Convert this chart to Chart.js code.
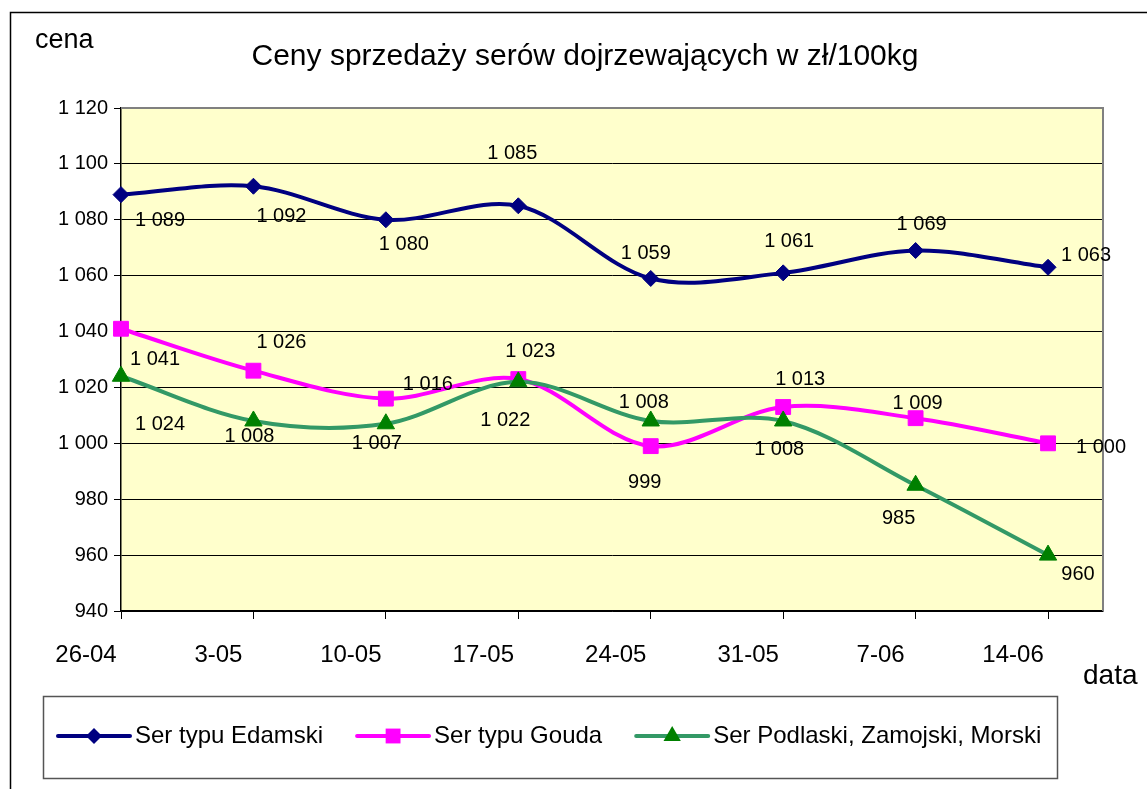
<!DOCTYPE html>
<html>
<head>
<meta charset="utf-8">
<script src="https://cdn.jsdelivr.net/npm/chart.js@4/dist/chart.umd.min.js"></script>
<style>
  html, body { margin: 0; padding: 0; background: #fff; }
  #wrap { width: 1147px; height: 789px; }
</style>
</head>
<body>
<div id="wrap"><canvas id="chart"></canvas></div>
<script>
// Ceny sprzedaży serów dojrzewających (zł/100kg)
const dates = ['26-04', '3-05', '10-05', '17-05', '24-05', '31-05', '7-06', '14-06'];
const edamski = [1089, 1092, 1080, 1085, 1059, 1061, 1069, 1063];
const gouda = [1041, 1026, 1016, 1023, 999, 1013, 1009, 1000];
const podlaski = [1024, 1008, 1007, 1022, 1008, 1008, 985, 960];
const seriesNames = ['Ser typu Edamski', 'Ser typu Gouda', 'Ser Podlaski, Zamojski, Morski'];
const yMin = 940, yMax = 1120, yStep = 20;

// where each value label sits relative to its point (px)
const labelShift = [
    [[39, 26], [28, 30], [18, 25], [-6, -52], [-5, -25], [6, -31], [6, -26], [38, -12]],
    [[34, 31], [28, -28], [42, -14], [12, -28], [-6, 36], [17, -28], [2, -15], [53, 4]],
    [[39, 48], [-4, 16], [-9, 20], [-13, 39], [-7, -18], [-4, 29], [-17, 33], [30, 19]]
];

const FONT = "'Liberation Sans', Arial, sans-serif";

function fmt(n) {
    n = Math.round(n);
    if (n < 1000) return String(n);
    return Math.floor(n / 1000) + ' ' + String(n % 1000).padStart(3, '0');
}

function toPoints(arr) {
    return arr.map((v, i) => ({ x: i, y: v }));
}

function drawMarker(ctx, style, x, y, r, color) {
    ctx.save();
    ctx.fillStyle = color;
    ctx.beginPath();
    if (style === 'rectRot') {
        ctx.moveTo(x - r, y);
        ctx.lineTo(x, y - r);
        ctx.lineTo(x + r, y);
        ctx.lineTo(x, y + r);
    } else if (style === 'rect') {
        const s = r * Math.SQRT1_2;
        ctx.rect(x - s, y - s, 2 * s, 2 * s);
    } else {
        ctx.moveTo(x, y - r);
        ctx.lineTo(x + r * 0.866, y + r / 2);
        ctx.lineTo(x - r * 0.866, y + r / 2);
    }
    ctx.closePath();
    ctx.fill();
    ctx.restore();
}

const decor = {
    id: 'decor',
    beforeDraw(chart) {
        const { ctx, chartArea: a } = chart;
        ctx.save();
        ctx.fillStyle = '#fff';
        ctx.fillRect(0, 0, chart.width, chart.height);
        ctx.fillStyle = '#FFFFCC';
        ctx.fillRect(a.left, a.top, a.right - a.left, a.bottom - a.top);
        // outer frame
        ctx.strokeStyle = '#000';
        ctx.lineWidth = 1.5;
        ctx.strokeRect(10.5, 12.5, 1400, 1000);
        ctx.restore();
    },
    beforeDatasetsDraw(chart) {
        const { ctx, chartArea: a } = chart;
        ctx.save();
        ctx.strokeStyle = '#808080';
        ctx.lineWidth = 2;
        ctx.beginPath();
        ctx.moveTo(a.left, a.top);
        ctx.lineTo(a.right, a.top);
        ctx.lineTo(a.right, a.bottom);
        ctx.stroke();
        ctx.restore();
    },
    afterDatasetsDraw(chart) {
        const { ctx } = chart;
        ctx.save();
        ctx.fillStyle = '#000';
        ctx.font = '20px ' + FONT;
        ctx.textAlign = 'center';
        ctx.textBaseline = 'middle';
        chart.data.datasets.forEach((ds, di) => {
            const meta = chart.getDatasetMeta(di);
            meta.data.forEach((pt, i) => {
                const s = labelShift[di][i];
                ctx.fillText(fmt(ds.data[i].y), pt.x + s[0], pt.y + s[1]);
            });
        });
        ctx.restore();
    },
    afterDraw(chart) {
        const { ctx } = chart;
        ctx.save();
        ctx.fillStyle = '#000';
        ctx.textBaseline = 'alphabetic';
        ctx.font = '30px ' + FONT;
        ctx.textAlign = 'center';
        ctx.fillText('Ceny sprzedaży serów dojrzewających w zł/100kg', 585, 65);
        ctx.textAlign = 'left';
        ctx.font = '27px ' + FONT;
        ctx.fillText('cena', 35, 48);
        ctx.font = '28px ' + FONT;
        ctx.fillText('data', 1083, 684);

        // legend
        ctx.strokeStyle = '#555';
        ctx.lineWidth = 1.5;
        ctx.strokeRect(43.5, 696.5, 1014, 82);
        ctx.font = '24px ' + FONT;
        ctx.textBaseline = 'middle';
        let x = 58;
        const y = 736;
        chart.data.datasets.forEach((ds) => {
            ctx.strokeStyle = ds.borderColor;
            ctx.lineWidth = 4;
            ctx.lineCap = 'round';
            ctx.beginPath();
            ctx.moveTo(x, y);
            ctx.lineTo(x + 72, y);
            ctx.stroke();
            drawMarker(ctx, ds.pointStyle, x + 36, y, ds.pointRadius, ds.pointBackgroundColor);
            ctx.fillStyle = '#000';
            ctx.fillText(ds.label, x + 77, y);
            x += 77 + ctx.measureText(ds.label).width + 34;
        });
        ctx.restore();
    }
};

const ctx = document.getElementById('chart');
new Chart(ctx, {
    type: 'line',
    data: {
        datasets: [
            {
                label: seriesNames[0],
                data: toPoints(edamski),
                borderColor: '#000080',
                pointBackgroundColor: '#000080',
                pointBorderColor: '#000080',
                pointStyle: 'rectRot',
                pointRadius: 8,
                order: 2
            },
            {
                label: seriesNames[1],
                data: toPoints(gouda),
                borderColor: '#FF00FF',
                pointBackgroundColor: '#FF00FF',
                pointBorderColor: '#FF00FF',
                pointStyle: 'rect',
                pointRadius: 10.5,
                order: 1
            },
            {
                label: seriesNames[2],
                data: toPoints(podlaski),
                borderColor: '#339966',
                pointBackgroundColor: '#008000',
                pointBorderColor: '#008000',
                pointStyle: 'triangle',
                pointRadius: 10,
                order: 0
            }
        ]
    },
    options: {
        responsive: true,
        maintainAspectRatio: false,
        animation: false,
        events: [],
        clip: false,
        datasets: {
            line: {
                borderWidth: 4,
                tension: 0.33,
                pointBorderWidth: 1,
                fill: false
            }
        },
        layout: {
            padding: { left: 0, top: 108, right: 44, bottom: 118 }
        },
        plugins: {
            legend: { display: false },
            title: { display: false },
            tooltip: { enabled: false }
        },
        scales: {
            x: {
                type: 'linear',
                min: 0,
                max: 7.415,
                afterFit(scale) { scale.height = 60; },
                border: { color: '#000', width: 1.5 },
                grid: {
                    drawOnChartArea: false,
                    drawTicks: true,
                    tickLength: 8,
                    tickColor: '#000'
                },
                ticks: {
                    stepSize: 1,
                    includeBounds: false,
                    autoSkip: false,
                    maxRotation: 0,
                    padding: 22,
                    labelOffset: -35,
                    color: '#000',
                    font: { family: FONT, size: 24 },
                    callback: (v) => dates[v] !== undefined ? dates[v] : ''
                }
            },
            y: {
                min: yMin,
                max: yMax,
                afterFit(scale) { scale.width = 121; },
                border: { color: '#000', width: 1.5 },
                grid: {
                    color: '#000',
                    lineWidth: 1,
                    drawTicks: true,
                    tickLength: 7,
                    tickColor: '#000'
                },
                ticks: {
                    stepSize: yStep,
                    padding: 6,
                    color: '#000',
                    font: { family: FONT, size: 20 },
                    callback: (v) => fmt(v)
                }
            }
        }
    },
    plugins: [decor]
});
</script>
</body>
</html>
